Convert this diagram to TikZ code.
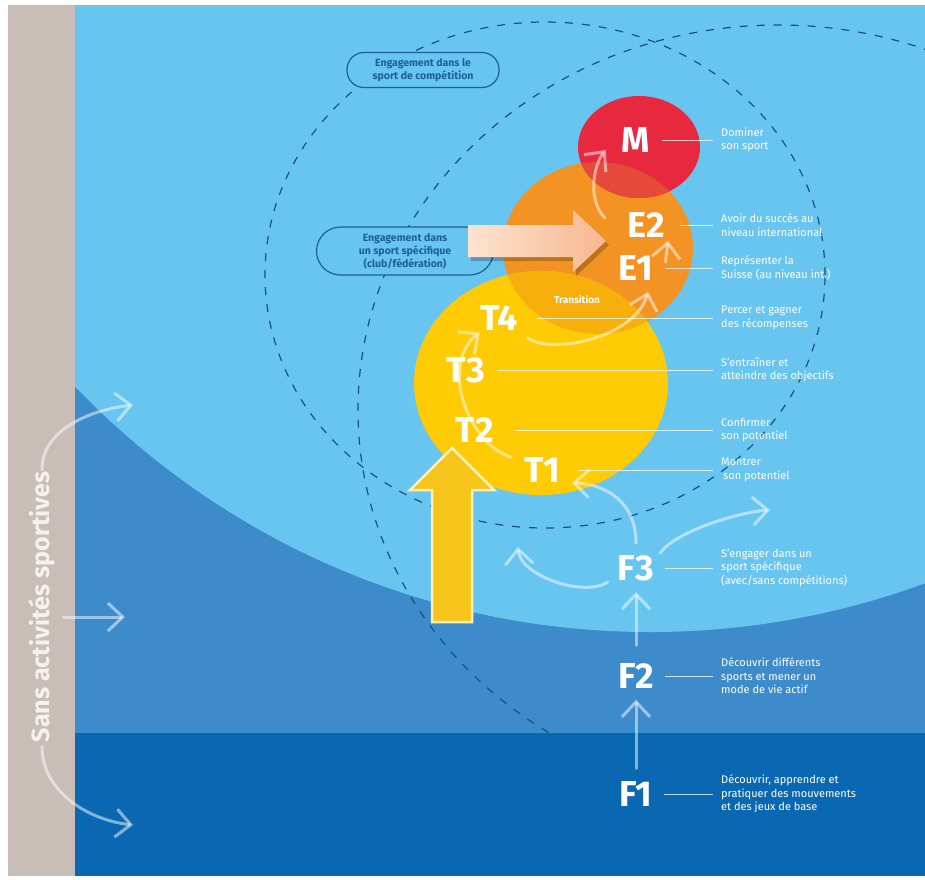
\documentclass[tikz,border=0pt]{standalone}
\usepackage{fontspec}
\setmainfont{Fira Sans}
\usetikzlibrary{arrows.meta}

\definecolor{skyblue}{HTML}{67C5F0}
\definecolor{midblue}{HTML}{3E8BCB}
\definecolor{deepblue}{HTML}{0A68B2}
\definecolor{sandgrey}{HTML}{C8BDB7}
\definecolor{dashblue}{HTML}{1B4F80}
\definecolor{boxblue}{HTML}{1E5E9C}
\definecolor{redM}{HTML}{E7283F}
\definecolor{orangeE}{HTML}{F39324}
\definecolor{yellowT}{HTML}{FFCB05}
\definecolor{mixME}{HTML}{E5493A}
\definecolor{mixTE}{HTML}{F7AF0C}
\definecolor{arrowyellow}{HTML}{F5C51C}
\definecolor{arrowrim}{HTML}{FFF1B5}
\definecolor{peachlight}{HTML}{FDE3D0}
\definecolor{peachdark}{HTML}{F6B790}

\tikzset{
  phase/.style={text=white, font=\fontsize{36}{36}\selectfont\bfseries, inner sep=0pt},
  desc/.style={text=white, font=\fontsize{11}{13.5}\selectfont, align=left, anchor=west, inner sep=0pt},
  leader/.style={draw=white, draw opacity=0.75, line width=1pt},
  flow/.style={draw=white, draw opacity=0.5, line width=3pt, line cap=round,
    -{Straight Barb[length=15pt,width=28pt]}},
  engage/.style={draw=boxblue, line width=1.2pt, fill=skyblue, text=boxblue,
    font=\fontsize{10.5}{13}\selectfont\bfseries, align=center},
  ring/.style={draw=dashblue, line width=1.2pt, dash pattern=on 8pt off 9pt},
}

\begin{document}
\begin{tikzpicture}[x=1pt, y=-1pt]
\useasboundingbox (0,0) rectangle (925,879);
\fill[white] (0,0) rectangle (925,879);
\fill[sandgrey] (8,5) rectangle (75,876);

% background bands
\begin{scope}
\clip (75,5) rectangle (925,876);
\fill[midblue] (75,5) rectangle (925,733);
\fill[skyblue] (650,-164) circle [radius=796pt];
\fill[deepblue] (75,733) rectangle (925,876);
\end{scope}

% dashed rings
\begin{scope}
\clip (75,5) rectangle (925,733);
\draw[ring] (545,275) ellipse [x radius=280pt, y radius=253pt];
\draw[ring] (778,410) ellipse [x radius=420pt, y radius=385pt];
\end{scope}

% phase circles
\fill[orangeE] (598,248) ellipse [x radius=95pt, y radius=86pt];
\fill[yellowT] (541,383) ellipse [x radius=127pt, y radius=112pt];
\begin{scope}
\clip (598,248) ellipse [x radius=95pt, y radius=86pt];
\fill[mixTE] (541,383) ellipse [x radius=127pt, y radius=112pt];
\end{scope}
\fill[redM] (639,147) ellipse [x radius=61pt, y radius=51pt];
\begin{scope}
\clip (598,248) ellipse [x radius=95pt, y radius=86pt];
\fill[mixME] (639,147) ellipse [x radius=61pt, y radius=51pt];
\end{scope}

% engagement boxes
\node[engage, minimum width=152pt, minimum height=35pt, rounded corners=17pt] (sportComp) at (423,70) {Engagement dans le\\sport de compétition};
\node[engage, minimum width=177pt, minimum height=48pt, rounded corners=24pt] (sportSpec) at (405,251) {Engagement dans\\un sport spécifique\\(club/fédération)};

% big arrows
\fill[black, opacity=0.22] (471,229) -- (576,229) -- (576,214) -- (609,245) -- (576,276) -- (576,261) -- (471,261) -- cycle;
\shade[left color=peachlight, right color=peachdark] (468,225) -- (573,225) -- (573,210) -- (606,241) -- (573,272) -- (573,257) -- (468,257) -- cycle;
\draw[draw=arrowrim, line width=2.5pt, fill=arrowyellow] (432,622) -- (432,490) -- (410,490) -- (452,448) -- (494,490) -- (472,490) -- (472,622) -- cycle;

% labels
\node[phase] (M) at (636,140) {M};
\node[phase] (E2) at (646,225) {E2};
\node[phase] (E1) at (636,268) {E1};
\node[phase] (T4) at (499,318) {T4};
\node[phase] (T3) at (466,370) {T3};
\node[phase] (T2) at (475,430) {T2};
\node[phase] (T1) at (542,470) {T1};
\node[phase] (F3) at (636,568) {F3};
\node[phase] (F2) at (636,676) {F2};
\node[phase] (F1) at (636,794) {F1};
\node[text=white, font=\fontsize{10}{10}\selectfont\bfseries] (trans) at (577,300) {Transition};
\node[rotate=90, text=white, text opacity=0.8, font=\fontsize{25}{25}\selectfont\bfseries, inner sep=0pt] (noSport) at (42,607) {Sans activités sportives};

% free ends
\coordinate (inTop) at (133,405);
\coordinate (inMid) at (125,617);
\coordinate (inLow) at (133,825);
\coordinate (toLeft) at (518,547);
\coordinate (toRight) at (770,510);

% pathways
\draw[flow] ([yshift=2pt]noSport.east) .. controls +(0,-40) and +(-43,5) .. (inTop);
\draw[flow] ([xshift=8pt]noSport.south |- inMid) -- (inMid);
\draw[flow] ([yshift=-4pt]noSport.west) .. controls +(0,45) and +(-45,-5) .. (inLow);
\draw[flow] ([yshift=13pt]F1.north) -- ([yshift=-11pt]F2.south);
\draw[flow] ([yshift=18pt]F2.north) -- ([yshift=-11pt]F3.south);
\draw[flow] ([yshift=12pt]F3.north) .. controls +(0,-38) and +(38,2) .. ([xshift=12pt]T1.south east);
\draw[flow] ([xshift=-10pt,yshift=-14pt]F3.west) .. controls +(-25,16) and +(2,28) .. (toLeft);
\draw[flow] ([xshift=6pt,yshift=2pt]F3.north east) .. controls +(15,-22) and +(-30,2) .. (toRight);
\draw[flow] ([xshift=-13pt]T1.north west) .. controls +(-45,-15) and +(-40,30) .. ([yshift=-2pt]T4.south west);
\draw[flow] ([xshift=9pt,yshift=-7pt]T4.south east) .. controls +(25,18) and +(-12,45) .. ([xshift=12pt,yshift=-11pt]E1.south);
\draw[flow] ([xshift=12pt,yshift=6pt]E1.east) -- ([xshift=22pt,yshift=-3pt]E2.south);
\draw[flow] ([xshift=-22pt,yshift=7pt]E2.west) .. controls +(-18,-18) and +(-12,15) .. ([xshift=-16pt,yshift=-10pt]M.west);

% descriptions
\node[desc] (dM) at (M -| 721,0) {Dominer\\son sport};
\node[desc] (dE2) at (E2 -| 721,0) {Avoir du succès au\\niveau international};
\node[desc] (dE1) at (E1 -| 721,0) {Représenter la\\Suisse (au niveau int.)};
\node[desc] (dT4) at (T4 -| 721,0) {Percer et gagner\\des récompenses};
\node[desc] (dT3) at (T3 -| 721,0) {S'entraîner et\\atteindre des objectifs};
\node[desc] (dT2) at (T2 -| 721,0) {Confirmer\\son potentiel};
\node[desc] (dT1) at (T1 -| 721,0) {Montrer\\\hspace*{2pt}son potentiel};
\node[desc] (dF3) at (F3 -| 721,0) {S'engager dans un\\sport spécifique\\(avec/sans compétitions)};
\node[desc] (dF2) at (F2 -| 721,0) {Découvrir différents\\sports et mener un\\mode de vie actif};
\node[desc] (dF1) at (F1 -| 721,0) {Découvrir, apprendre et\\pratiquer des mouvements\\et des jeux de base};

\draw[leader] ([xshift=12pt]M.east) -- ([xshift=-8pt]dM.west);
\draw[leader] ([xshift=15pt]E2.east) -- ([xshift=-8pt]dE2.west);
\draw[leader] ([xshift=12pt]E1.east) -- ([xshift=-8pt]dE1.west);
\draw[leader] ([xshift=19pt]T4.east) -- ([xshift=-8pt]dT4.west);
\draw[leader] ([xshift=12pt]T3.east) -- ([xshift=-8pt]dT3.west);
\draw[leader] ([xshift=21pt]T2.east) -- ([xshift=-8pt]dT2.west);
\draw[leader] ([xshift=18pt]T1.east) -- ([xshift=-8pt]dT1.west);
\draw[leader] ([xshift=11pt]F3.east) -- ([xshift=-8pt]dF3.west);
\draw[leader] ([xshift=11pt]F2.east) -- ([xshift=-8pt]dF2.west);
\draw[leader] ([xshift=11pt]F1.east) -- ([xshift=-8pt]dF1.west);
\end{tikzpicture}
\end{document}
